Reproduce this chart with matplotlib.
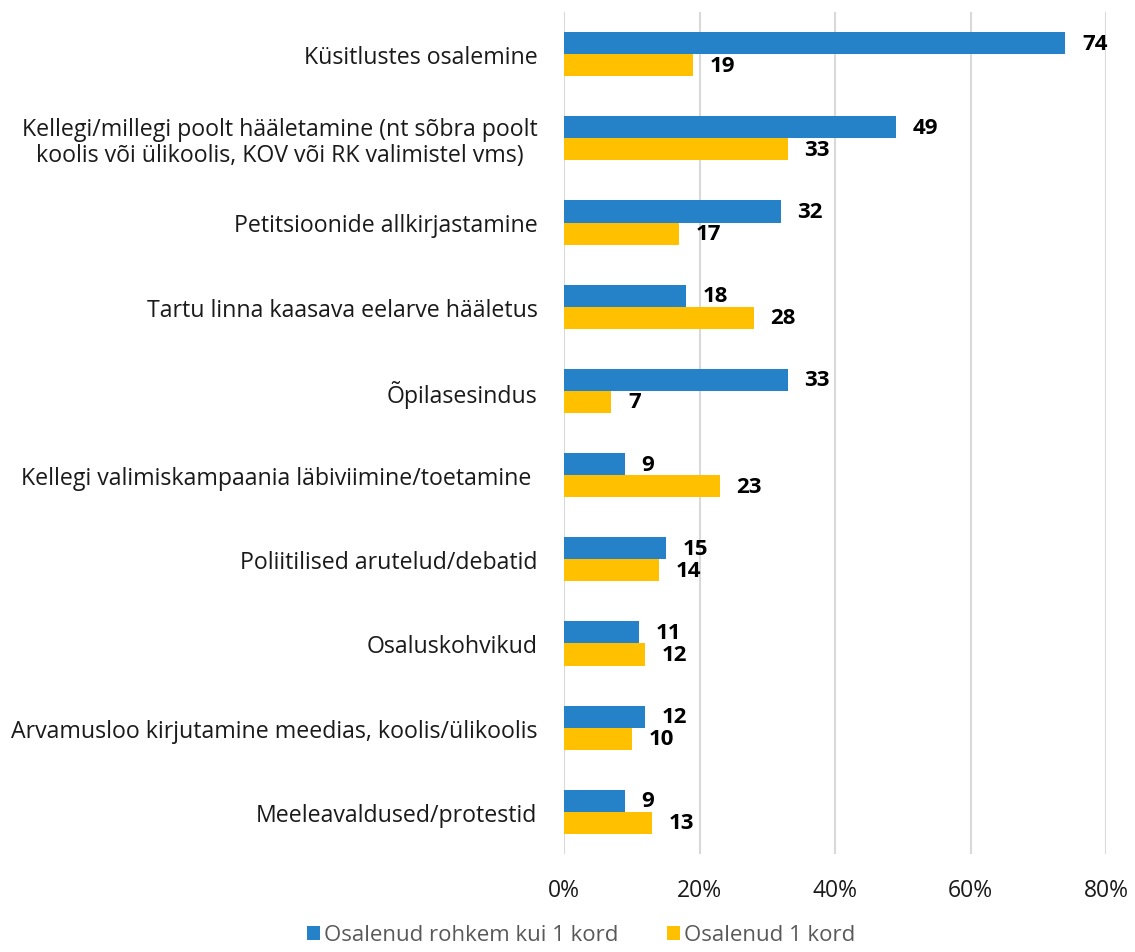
import matplotlib
matplotlib.use("Agg")
import matplotlib.pyplot as plt
import numpy as np

categories = [
    "Küsitlustes osalemine",
    "Kellegi/millegi poolt hääletamine (nt sõbra poolt\nkoolis või ülikoolis, KOV või RK valimistel vms)",
    "Petitsioonide allkirjastamine",
    "Tartu linna kaasava eelarve hääletus",
    "Õpilasesindus",
    "Kellegi valimiskampaania läbiviimine/toetamine ",
    "Poliitilised arutelud/debatid",
    "Osaluskohvikud",
    "Arvamusloo kirjutamine meedias, koolis/ülikoolis",
    "Meeleavaldused/protestid",
]
more_than_once = [74, 49, 32, 18, 33, 9, 15, 11, 12, 9]
once = [19, 33, 17, 28, 7, 23, 14, 12, 10, 13]
series_names = ["Osalenud rohkem kui 1 kord", "Osalenud 1 kord"]
xticks = [0, 20, 40, 60, 80]
xtick_labels = ["0%", "20%", "40%", "60%", "80%"]

plt.rcParams['font.family'] = ['Open Sans', 'DejaVu Sans']

fig = plt.figure(figsize=(11.35, 9.53), dpi=100)
ax = fig.add_axes([564/1135, 1-855/953, (1106-564)/1135, (855-13)/953])

y = np.arange(len(categories))
h = 0.262
c_blue = "#2682C8"
c_yel = "#FFC000"
b1 = ax.barh(y - h/2, more_than_once, height=h, color=c_blue, label=series_names[0], zorder=3)
b2 = ax.barh(y + h/2, once, height=h, color=c_yel, label=series_names[1], zorder=3)

for bars, vals in ((b1, more_than_once), (b2, once)):
    for bar, v in zip(bars, vals):
        ax.annotate(str(v), (bar.get_width(), bar.get_y() + bar.get_height()/2),
                    xytext=(12, 0), textcoords="offset points", ha="left", va="center",
                    fontsize=16, fontweight="bold", color="black")

ax.set_xlim(0, 80)
ax.set_ylim(len(categories) - 0.5, -0.5)
ax.set_xticks(xticks)
ax.set_xticklabels(xtick_labels, fontsize=16.5, color="#1a1a1a")
ax.set_yticks(y)
ax.set_yticklabels(categories, fontsize=16.7, color="#1a1a1a", multialignment="center",
                   linespacing=1.1)
ax.tick_params(axis="both", length=0)
ax.tick_params(axis="x", pad=17)
ax.tick_params(axis="y", pad=19)
ax.grid(axis="x", color="#D9D9D9", linewidth=1.5, zorder=0)
for s in ax.spines.values():
    s.set_visible(False)

leg = fig.legend(handles=[b1, b2], loc="center", bbox_to_anchor=(581/1135, 1-936/953),
                 ncol=2, frameon=False, fontsize=16, handlelength=0.6, handleheight=0.6,
                 handletextpad=0.15, columnspacing=2.2, borderpad=0.2)
for t in leg.get_texts():
    t.set_color("#595959")

fig.savefig("out.png", dpi=100, facecolor="white")
